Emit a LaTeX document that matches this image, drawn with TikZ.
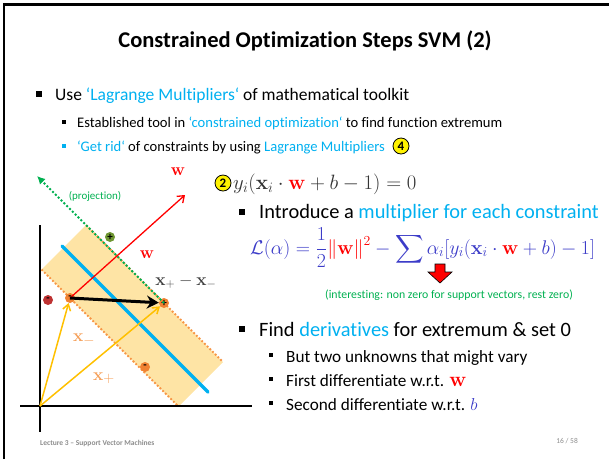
\documentclass[tikz,border=0pt]{standalone}
\usepackage{amsmath}
\usepackage{graphicx}
\usepackage[no-math]{fontspec}
\setmainfont[Ligatures=NoCommon]{Carlito}
\usetikzlibrary{arrows.meta}

\definecolor{slideblue}{RGB}{0,176,240}
\definecolor{slidegreen}{RGB}{0,176,80}
\definecolor{bandfill}{RGB}{254,228,165}
\definecolor{bandedge}{RGB}{247,150,70}
\definecolor{vecyellow}{RGB}{255,192,0}
\definecolor{lagblue}{RGB}{60,60,200}
\definecolor{footgray}{RGB}{140,140,140}
\definecolor{xlabcol}{RGB}{245,160,90}
\definecolor{ptorange}{RGB}{240,130,50}
\definecolor{ptred}{RGB}{190,50,50}
\definecolor{ptgreen}{RGB}{110,150,50}

\begin{document}
\begin{tikzpicture}[x=1pt,y=-1pt,
    txt/.style={anchor=base west,inner sep=0pt},
    bigtxt/.style={txt,font=\fontsize{17.5}{21}\selectfont},
    righttxt/.style={txt,font=\fontsize{20.4}{24}\selectfont},
    smalltxt/.style={txt,font=\fontsize{14.6}{17}\selectfont},
    subtxt/.style={txt,font=\fontsize{17.2}{21}\selectfont},
    sqbullet/.style={fill=black,minimum size=5.5pt,inner sep=0pt},
    smbullet/.style={fill=black,minimum size=4.5pt,inner sep=0pt},
    numcircle/.style={circle,draw=black,thick,fill=yellow,inner sep=0pt,minimum size=16pt,font=\bfseries\fontsize{13}{13}\selectfont},
    pt/.style={circle,inner sep=0pt,minimum size=10pt,font=\bfseries\fontsize{11}{11}\selectfont},
    vecarrow/.style={vecyellow,line width=1.5pt,-{Straight Barb[length=6pt,width=8pt]}},
    veclab/.style={inner sep=0pt,font=\fontsize{19}{19}\selectfont}]
        \useasboundingbox (0,0) rectangle (609,459);

        % Draw the frame
        \draw[line width=2.5pt] (4,459) -- (4,4.5) -- (609,4.5);

        % Title
        \node[anchor=base,inner sep=0pt,font=\bfseries\fontsize{22.5}{26}\selectfont] (title) at (305,47) {Constrained Optimization Steps SVM (2)};

        % Draw the bullets
        \foreach \x/\y in {39/94,242/212,242/329}
            \node[sqbullet] at (\x,\y) {};
        \foreach \x/\y in {64/122,271/355,271/379,271/403}
            \node[smbullet] at (\x,\y) {};
        \node[smbullet,fill=slideblue] at (64,146) {};

        % Top text
        \node[bigtxt] (use) at (55,100) {Use \textcolor{slideblue}{‘Lagrange Multipliers‘} of mathematical toolkit};
        \node[smalltxt] (tool) at (77,127) {Established tool in \textcolor{slideblue}{‘constrained optimization‘} to find function extremum};
        \node[smalltxt] (rid) at (77,151) {\textcolor{slideblue}{‘Get rid‘} of constraints by using \textcolor{slideblue}{Lagrange Multipliers}};
        \node[numcircle] (four) at (401,146) {4};

        % Right column
        \node[numcircle] (two) at (223,183) {2};
        \node[txt,text=black!80,font=\fontsize{21}{24}\selectfont] (cons) at (233,189) {$y_i(\mathbf{x}_i\cdot\textcolor{red}{\mathbf{w}}+b-1)=0$};
        \node[righttxt] (intro) at (259,218) {Introduce a \textcolor{slideblue}{multiplier for each constraint}};
        \node[txt,text=lagblue,font=\fontsize{17.28}{21}\selectfont] (lagr) at (250,254) {\scalebox{1.145}{$\displaystyle\mathcal{L}(\alpha)=\frac{1}{2}\textcolor{red}{\|\mathbf{w}\|^2}-\sum\alpha_i[y_i(\mathbf{x}_i\cdot\textcolor{red}{\mathbf{w}}+b)-1]$}};
        \filldraw[fill=red,draw=black,line width=0.6pt,shift={(440,264)}] (-5,0) -- (5,0) -- (5,8) -- (12,8) -- (0,19) -- (-12,8) -- (-5,8) -- cycle;
        \node[txt,text=slidegreen,font=\fontsize{11.8}{14}\selectfont] (note) at (325,298) {(interesting: non zero for support vectors, rest zero)};
        \node[righttxt] (find) at (259,336) {Find \textcolor{slideblue}{derivatives} for extremum \& set 0};
        \node[subtxt] (vary) at (286,362) {But two unknowns that might vary};
        \node[subtxt] (first) at (286,386) {First differentiate w.r.t. {\fontsize{21}{21}\selectfont$\textcolor{red}{\mathbf{w}}$}};
        \node[subtxt] (second) at (286,410) {Second differentiate w.r.t. {\fontsize{19}{19}\selectfont$\textcolor{lagblue}{b}$}};

        % Footer
        \node[txt,text=footgray,font=\bfseries\fontsize{7.5}{9}\selectfont] (foot) at (40,445) {Lecture 3 – Support Vector Machines};
        \node[anchor=base east,inner sep=0pt,text=footgray,font=\fontsize{7.5}{9}\selectfont] (page) at (578,443) {16 / 58};

        % Draw the margin band
        \coordinate (bandT) at (86,225);
        \coordinate (bandR) at (223,362);
        \coordinate (bandB) at (178.5,406.5);
        \coordinate (bandL) at (41.5,269.5);
        \fill[bandfill] (bandT) -- (bandR) -- (bandB) -- (bandL) -- cycle;
        \draw[bandedge,dotted,line width=1.8pt] (bandT) -- (bandR);
        \draw[bandedge,dotted,line width=1.8pt] (bandL) -- (bandB);

        % Draw the hyperplane
        \coordinate (hypA) at (62,246);
        \coordinate (hypB) at (208,392);
        \draw[slideblue,line width=3.5pt,line cap=round] (hypA) -- (hypB);

        % Draw the axes
        \coordinate (origin) at (40,406);
        \draw[line width=1.2pt] (40,225) -- (40,432);
        \draw[line width=1.2pt] (20,406) -- (252,406);

        % Draw the points
        \node[pt,fill=ptorange] (xm) at (70,298) {-};
        \node[pt,fill=ptorange] (xp) at (164,303) {+};
        \node[pt,fill=ptred] (redm) at (48,300) {-};
        \node[pt,fill=ptgreen] (grnp) at (110,237) {+};
        \node[pt,fill=ptorange] (orm) at (145,367) {-};

        % Draw the vectors
        \coordinate (projtip) at (37,176);
        \coordinate (wtip) at (185,195);
        \draw[slidegreen,dotted,line width=2pt,-{Latex[length=8pt,width=8pt]}] (xp.center) -- (projtip);
        \draw[red,line width=1.3pt,-{Straight Barb[length=6pt,width=9pt]}] (xm.center) -- (wtip);
        \draw[vecarrow] (origin) -- (xm);
        \draw[vecarrow] (origin) -- (xp);
        \draw[line width=3pt,-{Stealth[length=12pt,width=13pt]}] (xm.center) -- (xp);

        % Label the vectors
        \node[veclab,text=red] (wlab) at (178,172) {$\mathbf{w}$};
        \node[veclab,text=red] (wlab2) at (147,255) {$\mathbf{w}$};
        \node[veclab,text=black!75,font=\fontsize{17}{17}\selectfont] (difflab) at (186,282) {$\mathbf{x}_+-\mathbf{x}_-$};
        \node[veclab,text=xlabcol] (xmlab) at (84,340) {$\mathbf{x}_-$};
        \node[veclab,text=xlabcol] (xplab) at (104,378) {$\mathbf{x}_+$};
        \node[inner sep=0pt,text=slidegreen,font=\fontsize{11}{13}\selectfont] (projlab) at (95,196) {(projection)};
\end{tikzpicture}
\end{document}
